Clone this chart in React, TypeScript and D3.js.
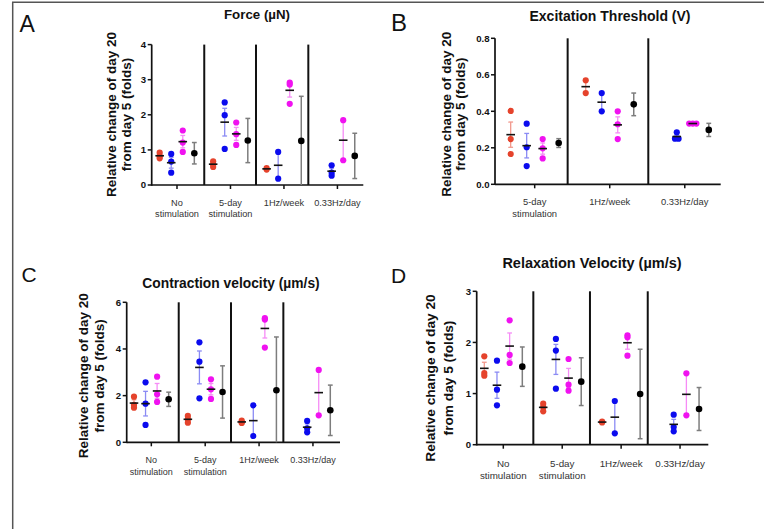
import React from "react";
import * as d3 from "d3";

// ---------- DATA ----------
const labels4 = [["No", "stimulation"], ["5-day", "stimulation"], ["1Hz/week"], ["0.33Hz/day"]];
const labels3 = [["5-day", "stimulation"], ["1Hz/week"], ["0.33Hz/day"]];

// Force (µN)
const forceRed = [[0.92, 0.82, 0.76], [0.676, 0.59, 0.514], [0.48, 0.44], []];
const forceBlue = [[0.886, 0.667, 0.352], [2.352, 1.99, 1.029], [0.943, 0.181], [0.562, 0.352, 0.267]];
const forceMagenta = [[1.552, 1.21, 0.943], [1.78, 1.448, 1.143], [2.92, 2.86, 2.314], [1.848, 0.705]];
const forceAllMean = [0.905, 1.267, 1.257, 0.829];
const forceAllErr = [0.305, 0.63, 1.27, 0.645];

// Excitation Threshold (V)
const threshRed = [[0.402, 0.248, 0.166], [0.57, 0.5], []];
const threshBlue = [[0.332, 0.203, 0.1], [0.5, 0.4], [0.285, 0.25, 0.25]];
const threshMagenta = [[0.248, 0.197, 0.142], [0.4, 0.329, 0.248], [0.333, 0.333, 0.333]];
const threshAllMean = [0.226, 0.438, 0.298];
const threshAllErr = [0.024, 0.062, 0.036];

// Contraction velocity (µm/s)
const contrRed = [[1.957, 1.6, 1.486], [1.129, 0.986, 0.843], [0.93, 0.86, 0.83], []];
const contrBlue = [[2.571, 1.657, 0.743], [4.286, 3.457, 1.886], [1.586, 0.271], [0.914, 0.6, 0.429]];
const contrMagenta = [[2.814, 2.057, 1.729], [2.7, 2.271, 1.857], [5.32, 5.26, 4.06], [3.1, 1.157]];
const contrAllMean = [1.843, 2.157, 2.229, 1.371];
const contrAllErr = [0.305, 1.12, 2.285, 1.08];

// Relaxation Velocity (µm/s)
const relaxRed = [[1.729, 1.402, 1.35], [0.802, 0.737, 0.652], [0.45, 0.435], []];
const relaxBlue = [[1.644, 1.076, 0.77], [2.068, 1.84, 1.096], [0.855, 0.222], [0.587, 0.346, 0.261]];
const relaxMagenta = [[2.433, 1.755, 1.598], [1.676, 1.174, 1.057], [2.14, 2.1, 1.742], [1.396, 0.574]];
const relaxAllMean = [1.526, 1.233, 0.992, 0.698];
const relaxAllErr = [0.385, 0.467, 0.875, 0.42];

const yTitle1 = "Relative change of day 20";
const yTitle2 = "from day 5 (folds)";

// ---------- STYLE ----------
const FONT = "'Liberation Sans', Arial, Helvetica, sans-serif";
const dotColors = ["#E5432C", "#0B0BEE", "#F012F0"];
const barColors = ["#F2998D", "#8B8BF4", "#F68CF6"];

type Cfg = {
  letter: string; letterX: number; letterY: number; letterSize: number;
  title: string; titleX: number; titleY: number; titleSize: number;
  left: number; right: number; top: number; bottom: number;
  yMax: number; yTicks: number[]; yFmt: (v: number) => string;
  groups: string[][]; G: number; padL: number; padR: number; dividers: number[];
  series: number[][][]; allMean: number[]; allErr: number[];
  yT1: number; yT2: number; yTc: number; yTSize: number;
  xl1: number; xlGap: number; xlSize: number;
};

const panels: Cfg[] = [
  {
    letter: "A", letterX: 19.5, letterY: 31.5, letterSize: 23,
    title: "Force (\u00b5N)", titleX: 257, titleY: 18.5, titleSize: 13.3,
    left: 151.7, right: 363.3, top: 44.6, bottom: 185,
    yMax: 4, yTicks: [0, 1, 2, 3, 4], yFmt: d3.format("d"),
    groups: labels4, G: 4.63, padL: 0.69, padR: 0.74, dividers: [3.86, 8.34, 12.87],
    series: [forceRed, forceBlue, forceMagenta], allMean: forceAllMean, allErr: forceAllErr,
    yT1: 111.7, yT2: 126.7, yTc: 114.5, yTSize: 13.5,
    xl1: 206, xlGap: 10.8, xlSize: 9.2,
  },
  {
    letter: "B", letterX: 391, letterY: 30.7, letterSize: 24,
    title: "Excitation Threshold (V)", titleX: 610, titleY: 21, titleSize: 14,
    left: 495, right: 720.7, top: 38.3, bottom: 184.3,
    yMax: 0.8, yTicks: [0, 0.2, 0.4, 0.6, 0.8], yFmt: d3.format(".1f"),
    groups: labels3, G: 4.69, padL: 0.98, padR: 0.745, dividers: [3.56, 8.6],
    series: [threshRed, threshBlue, threshMagenta], allMean: threshAllMean, allErr: threshAllErr,
    yT1: 446, yT2: 460, yTc: 114.2, yTSize: 13.5,
    xl1: 205, xlGap: 11.6, xlSize: 9.4,
  },
  {
    letter: "C", letterX: 21.5, letterY: 281.7, letterSize: 21,
    title: "Contraction velocity (\u00b5m/s)", titleX: 231, titleY: 287.5, titleSize: 13.8,
    left: 126.7, right: 340, top: 302.3, bottom: 442.3,
    yMax: 6, yTicks: [0, 2, 4, 6], yFmt: d3.format("d"),
    groups: labels4, G: 4.66, padL: 0.63, padR: 0.84, dividers: [3.87, 8.39, 12.92],
    series: [contrRed, contrBlue, contrMagenta], allMean: contrAllMean, allErr: contrAllErr,
    yT1: 83.3, yT2: 99.5, yTc: 375.8, yTSize: 13.5,
    xl1: 463.3, xlGap: 11.7, xlSize: 9,
  },
  {
    letter: "D", letterX: 391, letterY: 283, letterSize: 21,
    title: "Relaxation Velocity (\u00b5m/s)", titleX: 592, titleY: 268, titleSize: 14.5,
    left: 476.7, right: 708.3, top: 291.3, bottom: 444.7,
    yMax: 3, yTicks: [0, 1, 2, 3], yFmt: d3.format("d"),
    groups: labels4, G: 4.65, padL: 0.6, padR: 0.73, dividers: [3.87, 8.34, 12.9],
    series: [relaxRed, relaxBlue, relaxMagenta], allMean: relaxAllMean, allErr: relaxAllErr,
    yT1: 430, yT2: 448.3, yTc: 378, yTSize: 13.7,
    xl1: 466.6, xlGap: 12.7, xlSize: 9.8,
  },
];

function jitter(values: number[], y: (v: number) => number, step: number) {
  const py = values.map(y);
  const used = values.map(() => false);
  const offs = values.map(() => 0);
  for (let i = 0; i < values.length; i++) {
    if (used[i]) continue;
    const cluster = [i];
    for (let j = i + 1; j < values.length; j++) {
      if (!used[j] && Math.abs(py[j] - py[i]) < 0.5) cluster.push(j);
    }
    cluster.forEach((idx, k) => {
      used[idx] = true;
      offs[idx] = (k - (cluster.length - 1) / 2) * step;
    });
  }
  return offs;
}

function Panel({ c }: { c: Cfg }) {
  const n = c.groups.length;
  const x = d3.scaleLinear().domain([-c.padL, (n - 1) * c.G + 3 + c.padR]).range([c.left, c.right]);
  const y = d3.scaleLinear().domain([0, c.yMax]).range([c.bottom, c.top]);
  const colX = (g: number, s: number) => x(g * c.G + s);
  const capW = 2.4;
  const meanW = 4.3;
  const r = 3.1;

  const marks: React.ReactNode[] = [];
  for (let g = 0; g < n; g++) {
    c.series.forEach((ser, s) => {
      const vals = ser[g];
      if (!vals || vals.length === 0) return;
      const cx = colX(g, s);
      const m = d3.mean(vals) as number;
      const sd = vals.length > 1 ? (d3.deviation(vals) as number) : 0;
      const sem = sd / Math.sqrt(vals.length);
      const hi = y(m + sem);
      const lo = y(Math.max(0, m - sem));
      marks.push(
        <g key={`e${g}-${s}`} stroke={barColors[s]} strokeWidth={1.3}>
          <line x1={cx} x2={cx} y1={hi} y2={lo} />
          <line x1={cx - capW} x2={cx + capW} y1={hi} y2={hi} />
          <line x1={cx - capW} x2={cx + capW} y1={lo} y2={lo} />
        </g>
      );
      const offs = jitter(vals, y, 3.6);
      vals.forEach((v, i) => {
        marks.push(<circle key={`d${g}-${s}-${i}`} cx={cx + offs[i]} cy={y(v)} r={r} fill={dotColors[s]} />);
      });
      marks.push(
        <line key={`m${g}-${s}`} x1={cx - meanW} x2={cx + meanW} y1={y(m)} y2={y(m)} stroke="#111" strokeWidth={1.6} />
      );
    });
    const bx = colX(g, 3);
    const bm = c.allMean[g];
    const be = c.allErr[g];
    const bhi = y(bm + be);
    const lowClamped = bm - be <= 0;
    const blo = y(Math.max(0, bm - be));
    marks.push(
      <g key={`be${g}`} stroke="#7d7d7d" strokeWidth={1.5}>
        <line x1={bx} x2={bx} y1={bhi} y2={blo} />
        <line x1={bx - capW} x2={bx + capW} y1={bhi} y2={bhi} />
        {!lowClamped && <line x1={bx - capW} x2={bx + capW} y1={blo} y2={blo} />}
      </g>
    );
    marks.push(<circle key={`bd${g}`} cx={bx} cy={y(bm)} r={3.3} fill="#000" />);
  }

  return (
    <g fontFamily={FONT}>
      <text x={c.letterX} y={c.letterY} fontSize={c.letterSize} fill="#111">{c.letter}</text>
      <text x={c.titleX} y={c.titleY} fontSize={c.titleSize} fontWeight="bold" textAnchor="middle" fill="#111">{c.title}</text>
      {[{ t: yTitle1, xx: c.yT1 }, { t: yTitle2, xx: c.yT2 }].map((d, i) => (
        <text key={i} transform={`translate(${d.xx},${c.yTc}) rotate(-90)`} dy="0.35em" fontSize={c.yTSize}
          fontWeight="bold" textAnchor="middle" fill="#111">{d.t}</text>
      ))}
      {/* dividers */}
      {c.dividers.map((d, i) => (
        <line key={i} x1={x(d)} x2={x(d)} y1={c.top} y2={c.bottom} stroke="#111" strokeWidth={2} />
      ))}
      {/* y axis */}
      <line x1={c.left} x2={c.left} y1={c.top} y2={c.bottom + 0.8} stroke="#111" strokeWidth={1.7} />
      {c.yTicks.map((t) => (
        <g key={t}>
          <line x1={c.left - 4} x2={c.left} y1={y(t)} y2={y(t)} stroke="#111" strokeWidth={1.5} />
          <text x={c.left - 5.5} y={y(t)} dy="0.35em" textAnchor="end" fontSize={9.6} fontWeight="bold" fill="#111">
            {c.yFmt(t)}
          </text>
        </g>
      ))}
      {/* x axis */}
      <line x1={c.left} x2={c.right} y1={c.bottom} y2={c.bottom} stroke="#111" strokeWidth={1.7} />
      {c.groups.map((lab, g) => {
        const gx = x(g * c.G + 1.5);
        return (
          <g key={g}>
            <line x1={gx} x2={gx} y1={c.bottom} y2={c.bottom + 4} stroke="#111" strokeWidth={1.5} />
            {lab.map((l, i) => (
              <text key={i} x={gx} y={c.xl1 + i * c.xlGap} textAnchor="middle" fontSize={c.xlSize} fill="#333">{l}</text>
            ))}
          </g>
        );
      })}
      {marks}
    </g>
  );
}

export default function App() {
  return (
    <svg width={764} height={529} style={{ position: "absolute", left: 0, top: 0, background: "#fff" }}>
      <rect x={0} y={0} width={764} height={529} fill="#fff" />
      <line x1={12.7} x2={12.7} y1={2.2} y2={529} stroke="#555" strokeWidth={1.5} />
      <line x1={12} x2={764} y1={2.2} y2={2.2} stroke="#555" strokeWidth={1.5} />
      {panels.map((p) => (
        <Panel key={p.letter} c={p} />
      ))}
    </svg>
  );
}
